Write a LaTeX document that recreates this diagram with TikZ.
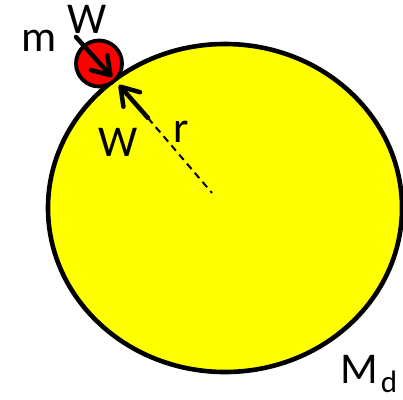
\documentclass[tikz,border=0pt]{standalone}
\usepackage{fontspec}
\setmainfont{Carlito}
\usetikzlibrary{arrows.meta,shapes.geometric}
\definecolor{pyellow}{RGB}{255,255,0}
\definecolor{pred}{RGB}{255,0,0}
\begin{document}
\begin{tikzpicture}[x=1pt,y=-1pt,
  lbl/.style={inner sep=0pt,anchor=base,font=\fontsize{44}{44}\selectfont},
  force/.style={line width=4.5pt,line cap=round,-{Straight Barb[length=17pt,width=22pt,line width=4.5pt,round]}}]
\useasboundingbox (0,0) rectangle (403,399);
\node[ellipse,draw,fill=pyellow,line width=4.6pt,minimum width=354pt,minimum height=328pt,inner sep=0pt] (Md) at (225,208) {};
\node[circle,draw,fill=pred,line width=3.8pt,minimum size=46pt,inner sep=0pt] (mass) at (99,63.5) {};
\coordinate (ctr) at (212,193);
\coordinate (rs) at (148,118);
\coordinate (wt) at (76,37);
\coordinate (tp) at (112,77);
\coordinate (tp2) at (119,85);
\draw[line width=2pt,dash pattern=on 7pt off 5pt] (rs) -- (ctr);
\draw[force] (wt) -- (tp);
\draw[force] (rs) -- (tp2);
\node[lbl] (m) at (39,51) {m};
\node[lbl] (W1) at (87,33) {W};
\node[lbl] (W2) at (118,156) {W};
\node[lbl] (r) at (181,142) {r};
\node[lbl,anchor=base west] (Mlab) at (340,383) {M\kern3pt\raisebox{-9pt}{\fontsize{31}{31}\selectfont d}};
\end{tikzpicture}
\end{document}
